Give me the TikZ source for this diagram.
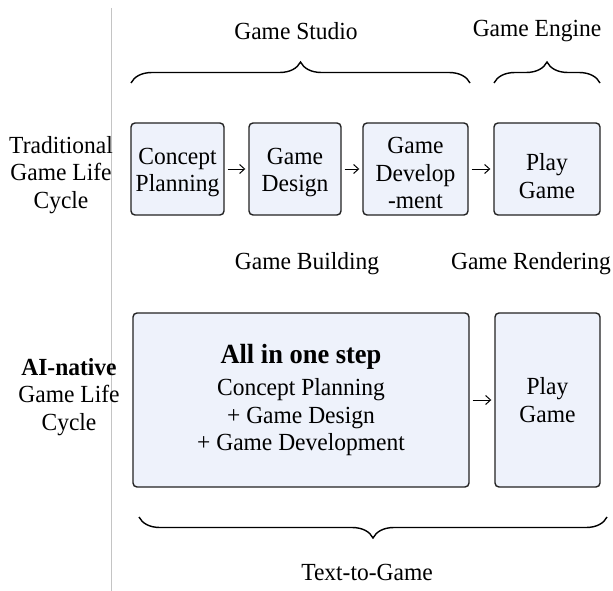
\documentclass[tikz,border=0pt]{standalone}
\usepackage{fontspec}
\setmainfont[FakeStretch=0.955]{Liberation Serif}
\usetikzlibrary{decorations.pathreplacing,arrows.meta}
\definecolor{boxfill}{HTML}{EEF2FB}
\definecolor{boxline}{HTML}{222222}
\definecolor{sepgray}{HTML}{C4C4C4}
\newcommand{\dnstrut}[1]{\rule{0pt}{#1}}
\tikzset{
  txt/.style={font=\fontsize{24.6}{27.5}\selectfont, align=center, inner sep=0pt},
  stagebox/.style={txt, draw=boxline, line width=1.4pt, fill=boxfill, rounded corners=4pt, minimum height=92pt},
  flowarrow/.style={-{Straight Barb[length=5pt,width=9pt]}, line width=1pt, shorten <=3pt, shorten >=3pt},
  bracket/.style={decorate, decoration={brace, amplitude=21pt}, line width=1.4pt}
}
\begin{document}
\begin{tikzpicture}[x=1pt,y=-1pt]
\useasboundingbox (0,0) rectangle (613,591);
% separator
\coordinate (sepTop) at (111,8);
\coordinate (sepBot) at (111,591);
\draw[sepgray, line width=1pt] (sepTop) -- (sepBot);

% headings
\node[txt] (studio) at (296,31) {Game Studio};
\node[txt] (engine) at (537,31) {Game Engine};
\coordinate (bsA) at (131,83); \coordinate (bsB) at (470,83);
\coordinate (beA) at (494,83); \coordinate (beB) at (600,83);
\draw[bracket] (bsA) -- (bsB);
\draw[bracket] (beA) -- (beB);

% row 1
\node[txt] (trad) at (61,175) {Traditional\\Game Life\\Cycle};
\node[stagebox, minimum width=93pt] (b1) at (177.5,169) {\dnstrut{23pt}Concept\\Planning};
\node[stagebox, minimum width=92pt] (b2) at (295,169) {\dnstrut{23pt}Game\\Design};
\node[stagebox, minimum width=105pt] (b3) at (415.5,169) {\dnstrut{25pt}Game\\Develop\\-ment};
\node[stagebox, minimum width=106pt] (b4) at (547,169) {\dnstrut{31pt}Play\\Game};
\draw[flowarrow] (b1) -- (b2);
\draw[flowarrow] (b2) -- (b3);
\draw[flowarrow] (b3) -- (b4);

% middle labels
\node[txt] (build) at (307,264) {Game Building};
\node[txt] (render) at (531,264) {Game Rendering};

% row 2
\node[txt] (ainat) at (69,397) {\textbf{AI-native}\\Game Life\\Cycle};
\node[stagebox, minimum width=336pt, minimum height=174pt] (all) at (301,400)
  {{\fontsize{27.7}{30}\selectfont\bfseries All in one step}\\[5pt]Concept Planning\\+ Game Design\\+ Game Development};
\node[stagebox, minimum width=105pt, minimum height=174pt] (play2) at (547.5,400) {Play\\Game};
\draw[flowarrow] (all) -- (play2);

% bottom brace
\coordinate (btA) at (607,517); \coordinate (btB) at (139,517);
\draw[bracket] (btA) -- (btB);
\node[txt] (t2g) at (367,572) {Text-to-Game};
\end{tikzpicture}
\end{document}
